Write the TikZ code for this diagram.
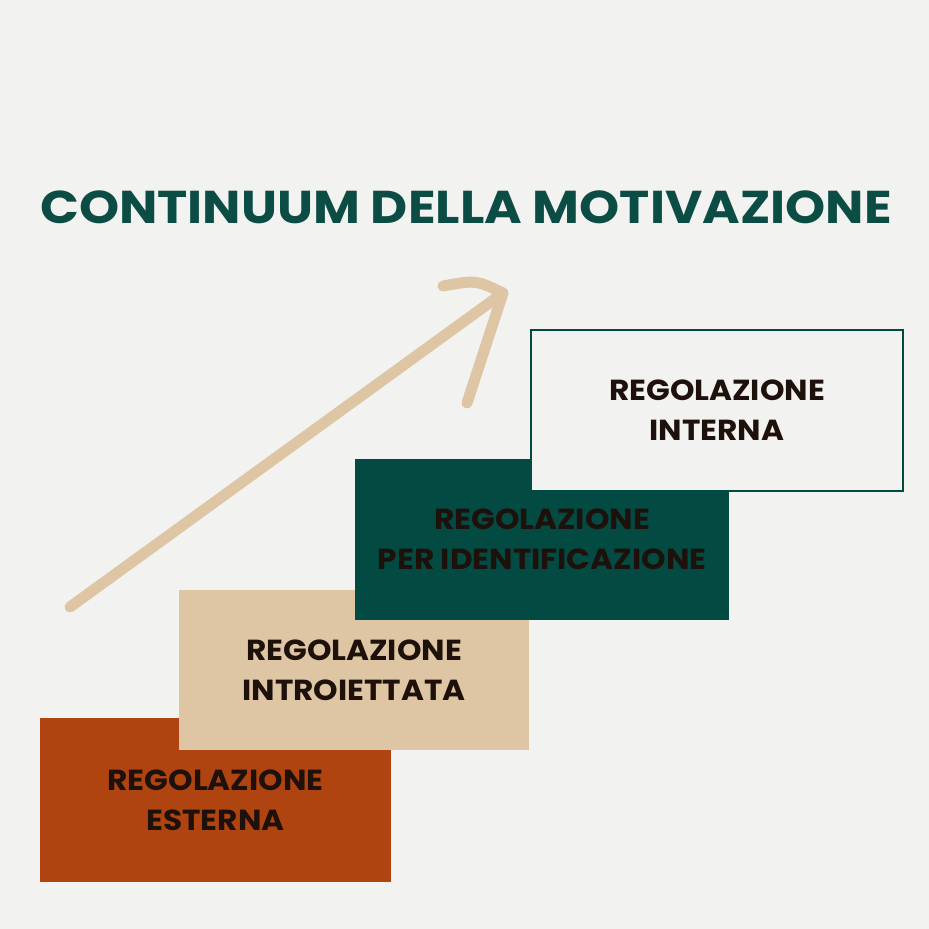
\documentclass[tikz,border=0pt]{standalone}
\usepackage{fontspec}
\setmainfont{Poppins}[FakeStretch=1.075]
\newfontfamily\titlefont{Poppins}[FakeStretch=1.11]
\definecolor{bg}{HTML}{F2F2F0}
\definecolor{teal}{HTML}{024A42}
\definecolor{titlec}{HTML}{0B4D44}
\definecolor{beige}{HTML}{DEC6A5}
\definecolor{rust}{HTML}{AF4411}
\definecolor{txt}{HTML}{1E100B}
\begin{document}
\begin{tikzpicture}[x=1pt,y=-1pt,
  stepbox/.style={rectangle, inner sep=0pt, minimum width=#1, align=center,
    minimum height=161pt, font=\fontsize{29}{40}\selectfont\bfseries, text=txt},
  arrowline/.style={draw=beige, line width=11pt, line cap=round, line join=round}]
\fill[bg] (0,0) rectangle (929,929);
\useasboundingbox (0,0) rectangle (929,929);
\node[font=\titlefont\fontsize{46}{50}\selectfont\bfseries, text=titlec] (title) at (466,207) {CONTINUUM DELLA MOTIVAZIONE};
\node[stepbox=351pt, minimum height=164pt, fill=rust] (b1) at (215.5,800) {REGOLAZIONE\\ESTERNA};
\node[stepbox=350pt, minimum height=160pt, fill=beige] (b2) at (354,670) {REGOLAZIONE\\INTROIETTATA};
\node[stepbox=374pt, fill=teal] (b3) at (542,539.5) {REGOLAZIONE\\PER IDENTIFICAZIONE};
\node[stepbox=372pt, fill=bg, draw=teal, line width=1.2pt] (b4) at (717,410.5) {REGOLAZIONE\\INTERNA};
\coordinate (tail) at (70,607);
\coordinate (tip) at (503,293);
\coordinate (hl) at (443,286);
\coordinate (hr) at (467,403);
\draw[arrowline] (tail) -- (tip);
\draw[arrowline] (hl) .. controls (476,280) .. (tip) -- (hr);
\end{tikzpicture}
\end{document}
